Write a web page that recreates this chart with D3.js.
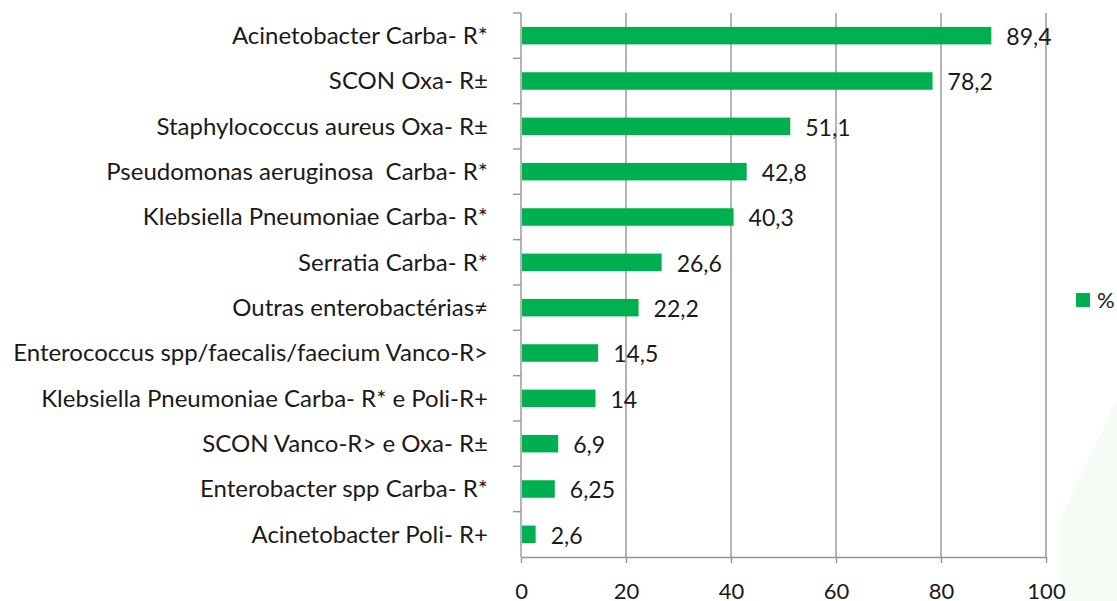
<!DOCTYPE html>
<html>
<head>
  <meta charset="utf-8">
  <title>resistencia</title>
  <script src="https://cdn.jsdelivr.net/npm/d3@7"></script>
  <style>
    body { margin: 0; background: #fff; }
    text { font-family: Lato, "Open Sans", sans-serif; fill: #1a1a1a; white-space: pre; }
  </style>
</head>
<body>
<script>
// categories, top to bottom
var categories = [
  "Acinetobacter Carba- R*",
  "SCON Oxa- R\u00b1",
  "Staphylococcus aureus Oxa- R\u00b1",
  "Pseudomonas aeruginosa  Carba- R*",
  "Klebsiella Pneumoniae Carba- R*",
  "Serratia Carba- R*",
  "Outras enterobact\u00e9rias\u2260",
  "Enterococcus spp/faecalis/faecium Vanco-R>",
  "Klebsiella Pneumoniae Carba- R* e Poli-R+",
  "SCON Vanco-R> e Oxa- R\u00b1",
  "Enterobacter spp Carba- R*",
  "Acinetobacter Poli- R+"
];
var values = [89.4, 78.2, 51.1, 42.8, 40.3, 26.6, 22.2, 14.5, 14, 6.9, 6.25, 2.6];
var xTicks = [0, 20, 40, 60, 80, 100];
var seriesName = "%";

var w = 1117, h = 601;
var pLeft = 521, pRight = 1046, pTop = 13, pBottom = 557;
var grey = "#959595";
var green = "#00b050";

var svg = d3.select("body").append("svg")
  .attr("width", w)
  .attr("height", h);

// faint background shape, bottom right
svg.append("path")
  .attr("d", "M1117,400 L1060,520 L1060,601 L1117,601 Z")
  .attr("fill", "#f5fbf5");

var x = d3.scaleLinear().domain([0, 100]).range([pLeft, pRight]);
var y = d3.scaleBand().domain(categories).range([pTop, pBottom]).paddingInner(0.614).paddingOuter(0.307);
var yTicks = d3.scaleBand().domain(categories).range([pTop, pBottom]);

// vertical grid
svg.selectAll("line.grid")
  .data(xTicks.slice(1))
  .enter().append("line")
  .attr("class", "grid")
  .attr("x1", function(d) { return x(d); })
  .attr("x2", function(d) { return x(d); })
  .attr("y1", pTop)
  .attr("y2", pBottom)
  .attr("stroke", grey)
  .attr("stroke-width", 1.4);

// x axis
var xAxis = svg.append("g")
  .attr("transform", "translate(0," + pBottom + ")")
  .call(d3.axisBottom(x).tickValues(xTicks).tickSize(6).tickPadding(20).tickSizeOuter(0));
xAxis.selectAll("path, line").attr("stroke", grey).attr("stroke-width", 1.4);
xAxis.selectAll("text")
  .style("font-family", "Lato, sans-serif")
  .style("font-size", "22px")
  .attr("fill", "#1a1a1a");

// y axis line + ticks at band boundaries
svg.append("line")
  .attr("x1", pLeft).attr("x2", pLeft)
  .attr("y1", pTop).attr("y2", pBottom)
  .attr("stroke", grey).attr("stroke-width", 1.4);
svg.selectAll("line.ytick")
  .data(categories)
  .enter().append("line")
  .attr("class", "ytick")
  .attr("x1", pLeft - 8).attr("x2", pLeft)
  .attr("y1", function(d) { return yTicks(d); })
  .attr("y2", function(d) { return yTicks(d); })
  .attr("stroke", grey).attr("stroke-width", 1.4);

// category labels
svg.selectAll("text.cat")
  .data(categories)
  .enter().append("text")
  .attr("class", "cat")
  .attr("x", 488)
  .attr("y", function(d) { return yTicks(d) + yTicks.bandwidth() / 2; })
  .attr("dy", "0.35em")
  .attr("text-anchor", "end")
  .style("font-size", "24px")
  .text(function(d) { return d; });

// bars
svg.selectAll("rect.bar")
  .data(values)
  .enter().append("rect")
  .attr("class", "bar")
  .attr("x", x(0) + 1)
  .attr("y", function(d, i) { return y(categories[i]); })
  .attr("width", function(d) { return x(d) - x(0); })
  .attr("height", y.bandwidth())
  .attr("fill", green);

// value labels
svg.selectAll("text.val")
  .data(values)
  .enter().append("text")
  .attr("class", "val")
  .attr("x", function(d) { return x(d) + 16; })
  .attr("y", function(d, i) { return y(categories[i]) + y.bandwidth() / 2 + 1; })
  .attr("dy", "0.36em")
  .style("font-size", "23px")
  .text(function(d) { return String(d).replace(".", ","); });

// legend
var lg = svg.append("g").attr("transform", "translate(1076,293)");
lg.append("rect").attr("width", 14).attr("height", 14).attr("fill", green);
lg.append("text").attr("x", 21).attr("y", 7).attr("dy", "0.36em")
  .style("font-size", "22px").text(seriesName);
</script>
</body>
</html>
